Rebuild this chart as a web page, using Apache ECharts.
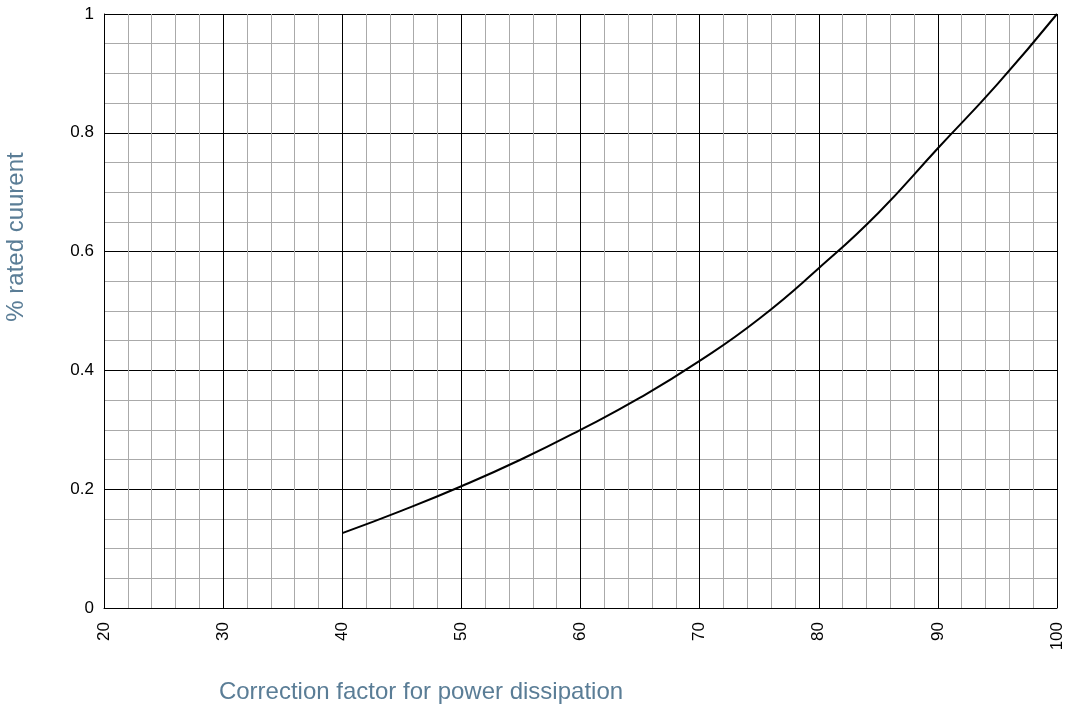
<!DOCTYPE html>
<html>
<head>
<meta charset="utf-8">
<script src="https://cdn.jsdelivr.net/npm/echarts@6/dist/echarts.min.js"></script>
<style>html,body{margin:0;padding:0;background:#fff}#c{width:1066px;height:710px}</style>
</head>
<body>
<div id="c"></div>
<script>
const xValues = [40, 45, 50, 55, 60, 65, 70, 75, 80, 85, 90, 95, 100];
const yValues = [0.126, 0.164, 0.205, 0.25, 0.30, 0.354, 0.416, 0.487, 0.572, 0.665, 0.774, 0.882, 1.0];
const xTitle = 'Correction factor for power dissipation';
const yTitle = '% rated cuurent';

const chart = echarts.init(document.getElementById('c'));
const font = '"Liberation Sans", Arial, Helvetica, sans-serif';
chart.setOption({
  animation: false,
  grid: { left: 104, right: 9, top: 14, bottom: 102, containLabel: false },
  xAxis: {
    type: 'value', min: 20, max: 100, interval: 10,
    axisLine: { show: true, lineStyle: { color: '#000', width: 1 } },
    axisTick: { show: false },
    axisLabel: { rotate: 90, margin: 14, color: '#000', fontSize: 17, fontFamily: font },
    splitLine: { show: true, lineStyle: { color: '#000', width: 1 } },
    minorTick: { show: false, splitNumber: 5 },
    minorSplitLine: { show: true, lineStyle: { color: '#aaaaaa', width: 1 } }
  },
  yAxis: {
    type: 'value', min: 0, max: 1, interval: 0.2,
    axisLine: { show: true, lineStyle: { color: '#000', width: 1 } },
    axisTick: { show: false },
    axisLabel: { margin: 10, color: '#000', fontSize: 17, fontFamily: font,
      formatter: v => (v === 0 || v === 1) ? String(v) : v.toFixed(1) },
    splitLine: { show: true, lineStyle: { color: '#000', width: 1 } },
    minorTick: { show: false, splitNumber: 4 },
    minorSplitLine: { show: true, lineStyle: { color: '#aaaaaa', width: 1 } }
  },
  graphic: [
    { type: 'text', x: 16, y: 237, rotation: Math.PI / 2,
      style: { text: yTitle, fill: '#5a7d96', font: '24px ' + font, textAlign: 'center', textVerticalAlign: 'middle' } },
    { type: 'text', x: 421, y: 692,
      style: { text: xTitle, fill: '#5a7d96', font: '24px ' + font, textAlign: 'center', textVerticalAlign: 'middle' } }
  ],
  series: [{
    type: 'line', smooth: true, symbol: 'none',
    lineStyle: { color: '#000', width: 2 },
    data: xValues.map((x, i) => [x, yValues[i]])
  }]
});
</script>
</body>
</html>
